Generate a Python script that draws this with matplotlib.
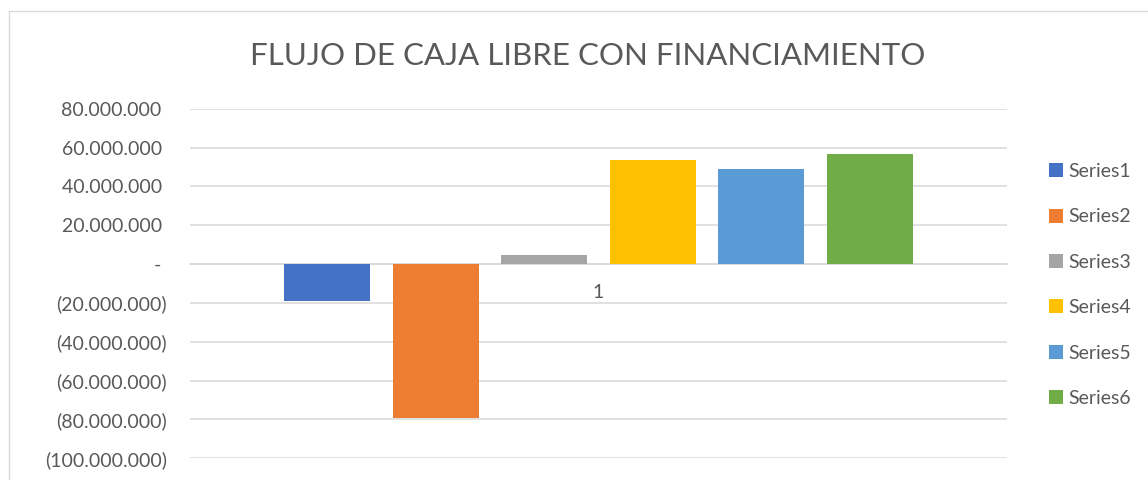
import matplotlib.pyplot as plt
from matplotlib.patches import Rectangle
from matplotlib.ticker import FuncFormatter

# Flujo de caja libre con financiamiento (one category, six series)
series = ["Series1", "Series2", "Series3", "Series4", "Series5", "Series6"]
values = [-18800000, -79100000, 4800000, 53600000, 49000000, 56700000]
colors = ["#4472C4", "#ED7D31", "#A5A5A5", "#FFC000", "#5B9BD5", "#70AD47"]
category = ["1"]
yticks = list(range(-100000000, 80000001, 20000000))

plt.rcParams["font.family"] = ["Lato", "DejaVu Sans"]
text_color = "#595959"
grid_color = "#D9D9D9"

fig = plt.figure(figsize=(11.48, 4.8), dpi=100)
ax = fig.add_axes([0.1655, 0.0452, 0.7114, 0.7283])

# chart border
fig.patches.append(Rectangle((0.0078, -0.1), 1.1, 1.078, transform=fig.transFigure,
                             fill=False, edgecolor=grid_color, linewidth=1.0))

bar_w = 0.1053
step = 0.1329
for i, (name, v, c) in enumerate(zip(series, values, colors)):
    ax.bar((i - 2.5) * step, v, width=bar_w, color=c, label=name, zorder=3)

ax.set_xlim(-0.5, 0.5)
ax.set_ylim(-100000000, 80000000)
ax.set_yticks(yticks)


def money(v, pos):
    if v == 0:
        return "- "
    s = f"{abs(v):,.0f}".replace(",", ".")
    return f"({s})" if v < 0 else s + " "


ax.yaxis.set_major_formatter(FuncFormatter(money))
ax.yaxis.grid(True, color=grid_color, linewidth=1.1, zorder=0)
ax.set_axisbelow(True)

ax.set_xticks([0])
ax.set_xticklabels(category)
ax.spines["bottom"].set_position(("data", 0))
ax.spines["bottom"].set_color(grid_color)
ax.spines["bottom"].set_linewidth(1.1)
for s in ["top", "right", "left"]:
    ax.spines[s].set_visible(False)

ax.tick_params(axis="y", length=0, pad=16.8, labelsize=14, labelcolor=text_color)
ax.tick_params(axis="x", length=0, pad=14, labelsize=14, labelcolor=text_color)

fig.text(0.5118, 0.8646, "FLUJO DE CAJA LIBRE CON FINANCIAMIENTO", ha="center",
         va="baseline", fontsize=22.5, color=text_color, fontweight="normal")

fig.legend(loc="upper left", bbox_to_anchor=(1049 / 1148, 1 - 163 / 480),
           frameon=False, fontsize=14, labelcolor=text_color, borderpad=0,
           handlelength=0.72, handleheight=0.72, handletextpad=0.28,
           labelspacing=1.46, borderaxespad=0)

fig.savefig("out.png", dpi=100)
